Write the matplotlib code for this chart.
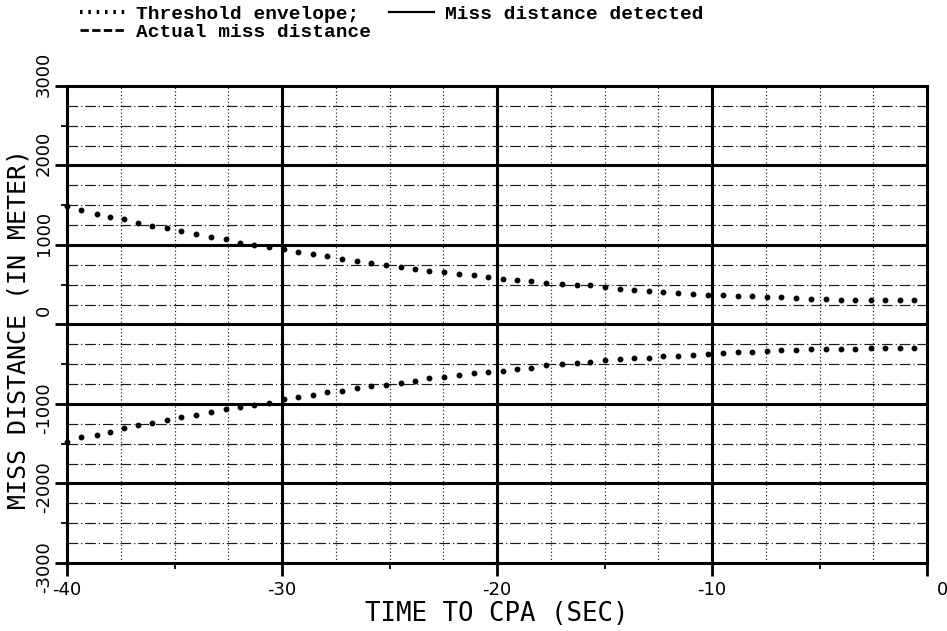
import matplotlib
matplotlib.use("Agg")
import matplotlib.pyplot as plt
from matplotlib.lines import Line2D
from matplotlib.transforms import ScaledTranslation
from matplotlib.ticker import FixedLocator

# ---- data ----
time_s = [-40.0, -39.35, -38.62, -37.99, -37.35, -36.68, -36.06, -35.35, -34.7, -34.0,
          -33.3, -32.6, -31.97, -31.3, -30.6, -29.93, -29.24, -28.57, -27.9, -27.2,
          -26.5, -25.86, -25.16, -24.48, -23.8, -23.15, -22.47, -21.75, -21.08, -20.4,
          -19.74, -19.07, -18.4, -17.7, -17.0, -16.3, -15.67, -15.0, -14.3, -13.65,
          -12.95, -12.26, -11.56, -10.9, -10.2, -9.5, -8.8, -8.15, -7.45, -6.79,
          -6.1, -5.4, -4.7, -4.0, -3.35, -2.6, -1.95, -1.26, -0.6]
upper_envelope = [1490, 1434, 1387, 1350, 1321, 1283, 1241, 1208, 1175, 1137,
                  1104, 1075, 1029, 1000, 971, 950, 908, 887, 858, 825,
                  804, 775, 750, 721, 700, 679, 658, 631, 617, 596,
                  575, 554, 541, 521, 508, 500, 491, 466, 450, 437,
                  421, 408, 396, 383, 375, 375, 362, 354, 346, 341,
                  333, 325, 321, 312, 312, 312, 304, 304, 304]
lower_envelope = [-1475, -1416, -1387, -1350, -1300, -1266, -1241, -1196, -1166, -1137,
                  -1100, -1062, -1033, -1008, -983, -938, -912, -887, -854, -833,
                  -804, -779, -762, -737, -708, -679, -662, -641, -616, -600,
                  -579, -554, -541, -512, -500, -483, -475, -450, -437, -425,
                  -416, -400, -391, -383, -366, -354, -350, -341, -333, -325,
                  -325, -312, -312, -312, -312, -300, -300, -300, -300]

x_major = [-40, -30, -20, -10, 0]
x_major_labels = ["-40", "-30", "-20", "-10", "0"]
x_minor_ticks = [-35, -25, -15, -5]
x_minor_grid = [-37.5, -35, -32.5, -27.5, -25, -22.5, -17.5, -15, -12.5, -7.5, -5, -2.5]
y_major = [3000, 2000, 1000, 0, -1000, -2000, -3000]
y_major_labels = ["3000", "2000", "1000", "0", "-1000", "-2000", "-3000"]
y_minor_ticks = [2500, 1500, 500, -500, -1500, -2500]
y_minor_grid = [2750, 2500, 2250, 1750, 1500, 1250, 750, 500, 250,
                -250, -500, -750, -1250, -1500, -1750, -2250, -2500, -2750]

legend_labels = ["Threshold envelope;", "Actual miss distance", "Miss distance detected"]
x_label = "TIME TO CPA (SEC)"
y_label = "MISS DISTANCE (IN METER)"

# ---- figure ----
W, H = 947, 631
fig = plt.figure(figsize=(W / 100, H / 100), dpi=100)
ax = fig.add_axes([67 / W, 1 - 563 / H, 860 / W, 477 / H])
ax.set_xlim(-40, 0)
ax.set_ylim(-3000, 3000)

# minor grid
for yv in y_minor_grid:
    ax.axhline(yv, color="#1a1a1a", lw=0.85, ls=(0, (9, 2.5, 1, 2.5)), zorder=1)
for xv in x_minor_grid:
    ax.axvline(xv, color="#1a1a1a", lw=0.85, ls=(0, (1, 2)), zorder=1)
# major grid
for yv in y_major[1:-1]:
    ax.axhline(yv, color="black", lw=2.2, zorder=2)
for xv in x_major[1:-1]:
    ax.axvline(xv, color="black", lw=2.2, zorder=2)

# threshold envelope
ax.plot(time_s, upper_envelope, ls="none", marker="o", ms=3.2, color="black",
        zorder=3, clip_on=False)
ax.plot(time_s, lower_envelope, ls="none", marker="o", ms=3.2, color="black",
        zorder=3, clip_on=False)

for s in ax.spines.values():
    s.set_linewidth(2.2)

ax.xaxis.set_major_locator(FixedLocator(x_major))
ax.xaxis.set_minor_locator(FixedLocator(x_minor_ticks))
ax.yaxis.set_major_locator(FixedLocator(y_major))
ax.yaxis.set_minor_locator(FixedLocator(y_minor_ticks))
ax.set_xticklabels(x_major_labels, fontfamily="DejaVu Sans", fontsize=13)
ax.set_yticklabels(y_major_labels, fontfamily=["Liberation Sans Narrow", "DejaVu Sans"],
                   fontsize=13, rotation=90, va="center")
ax.tick_params(which="major", direction="out", length=9, width=2.0, pad=4)
ax.tick_params(axis="y", which="major", pad=1.0)
ax.tick_params(which="minor", direction="out", length=4.5, width=1.3)

# nudge labels like the plotter output
for lab, val in zip(ax.get_yticklabels(), y_major):
    if val > 0:
        dy = 0.12
    elif val == 0:
        dy = 0.14
    else:
        dy = -0.04
    lab.set_transform(lab.get_transform() + ScaledTranslation(0, dy, fig.dpi_scale_trans))
xl = ax.get_xticklabels()
xl[-1].set_transform(xl[-1].get_transform() + ScaledTranslation(0.15, 0, fig.dpi_scale_trans))

ax.set_xlabel(x_label, fontfamily="DejaVu Sans Mono", fontsize=18.5)
ax.set_ylabel(y_label, fontfamily="DejaVu Sans Mono", fontsize=18)
ax.xaxis.set_label_coords(0.5, -0.08)
ax.yaxis.set_label_coords(-0.043, 0.49)

handles = [
    Line2D([], [], color="black", lw=3.0, ls=(0, (0.6, 1.4))),
    Line2D([], [], color="black", lw=2.0, ls=(0, (3, 1.2))),
    Line2D([], [], color="black", lw=1.6, ls="-"),
]
leg = fig.legend(handles, legend_labels, ncol=2, loc="upper left",
                 bbox_to_anchor=(80 / W, 1 - 5 / H), frameon=False,
                 prop={"family": "Liberation Mono", "weight": "bold", "size": 14},
                 handlelength=2.3, handletextpad=0.6, columnspacing=0.9,
                 labelspacing=0.05, borderpad=0, borderaxespad=0)

fig.savefig("out.png", dpi=100)
